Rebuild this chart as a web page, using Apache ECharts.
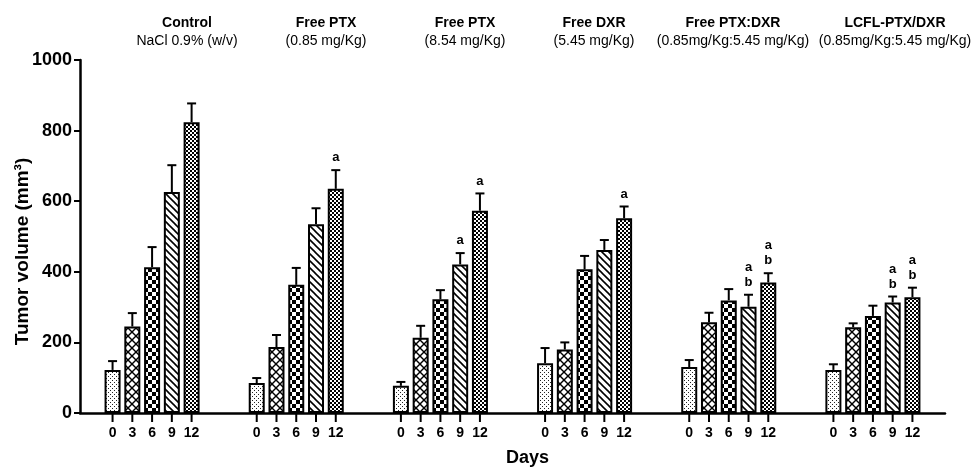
<!DOCTYPE html>
<html>
<head>
<meta charset="utf-8">
<script src="https://cdn.jsdelivr.net/npm/echarts@6/dist/echarts.min.js"></script>
<style>html,body{margin:0;padding:0;background:#fff}#c{width:974px;height:468px}</style>
</head>
<body>
<div id="c"></div>
<script>
// ---------- data ----------
var groupTitles = ['Control', 'Free PTX', 'Free PTX', 'Free DXR', 'Free PTX:DXR', 'LCFL-PTX/DXR'];
var groupSubtitles = ['NaCl 0.9% (w/v)', '(0.85 mg/Kg)', '(8.54 mg/Kg)', '(5.45 mg/Kg)', '(0.85mg/Kg:5.45 mg/Kg)', '(0.85mg/Kg:5.45 mg/Kg)'];
var days = ['0', '3', '6', '9', '12'];
var yTicks = [0, 200, 400, 600, 800, 1000];

var meanDay0  = [122, 85, 77, 141, 130, 122];
var meanDay3  = [245, 187, 213, 180, 257, 243];
var meanDay6  = [413, 363, 322, 407, 319, 275];
var meanDay9  = [626, 535, 421, 462, 301, 313];
var meanDay12 = [824, 635, 573, 552, 370, 328];

var semDay0  = [25, 14, 11, 43, 20, 16];
var semDay3  = [38, 34, 34, 20, 27, 11];
var semDay6  = [57, 48, 26, 38, 32, 29];
var semDay9  = [76, 45, 32, 28, 34, 17];
var semDay12 = [53, 53, 49, 33, 26, 27];

var sigDay0  = ['', '', '', '', '', ''];
var sigDay3  = ['', '', '', '', '', ''];
var sigDay6  = ['', '', '', '', '', ''];
var sigDay9  = ['', '', 'a', '', 'a\nb', 'a\nb'];
var sigDay12 = ['', 'a', 'a', 'a', 'a\nb', 'a\nb'];

// ---------- styling ----------
var FONT = 'Liberation Sans, Arial, sans-serif';
var BAR_W = 16, BAR_GAP = '23.5%';
var titleCenters = [187, 326, 465, 594, 733, 895];

var means = [meanDay0, meanDay3, meanDay6, meanDay9, meanDay12];
var sems = [semDay0, semDay3, semDay6, semDay9, semDay12];
var sigs = [sigDay0, sigDay3, sigDay6, sigDay9, sigDay12];

function makePattern(size, draw) {
  var c = document.createElement('canvas');
  c.width = size; c.height = size;
  var ctx = c.getContext('2d');
  ctx.fillStyle = '#fff'; ctx.fillRect(0, 0, size, size);
  ctx.fillStyle = '#000'; ctx.strokeStyle = '#000';
  draw(ctx, size);
  return { image: c, repeat: 'repeat' };
}
var patterns = [
  makePattern(4, function (ctx) { ctx.fillStyle = '#222'; ctx.fillRect(0, 0, 1, 1); ctx.fillRect(2, 2, 1, 1); }),
  makePattern(8, function (ctx, s) {
    ctx.lineWidth = 1.4;
    ctx.beginPath(); ctx.moveTo(-1, -1); ctx.lineTo(s + 1, s + 1); ctx.stroke();
    ctx.beginPath(); ctx.moveTo(s + 1, -1); ctx.lineTo(-1, s + 1); ctx.stroke();
  }),
  makePattern(8, function (ctx) { ctx.fillRect(0, 0, 4, 4); ctx.fillRect(4, 4, 4, 4); }),
  makePattern(7, function (ctx, s) {
    ctx.lineWidth = 1.6;
    ctx.beginPath(); ctx.moveTo(-1, -1); ctx.lineTo(s + 1, s + 1); ctx.stroke();
    ctx.beginPath(); ctx.moveTo(-s - 1, -1); ctx.lineTo(1, s + 1); ctx.stroke();
    ctx.beginPath(); ctx.moveTo(s - 1, -1); ctx.lineTo(2 * s + 1, s + 1); ctx.stroke();
  }),
  makePattern(4, function (ctx) { ctx.fillRect(0, 0, 2, 2); ctx.fillRect(2, 2, 2, 2); })
];

var series = [];
days.forEach(function (day, d) {
  series.push({
    type: 'bar',
    name: day,
    data: means[d],
    barWidth: BAR_W,
    barGap: BAR_GAP,
    itemStyle: { color: patterns[d], borderColor: '#000', borderWidth: 2 },
    silent: true
  });
});
days.forEach(function (day, d) {
  series.push({
    type: 'custom',
    name: 'err' + day,
    clip: false,
    z: 5,
    silent: true,
    encode: { x: 0, y: 1 },
    data: means[d].map(function (m, g) { return [g, m, sems[d][g]]; }),
    renderItem: function (params, api) {
      var g = api.value(0), mean = api.value(1), sem = api.value(2);
      var off;
      if (api.barLayout) {
        var lay = api.barLayout({ barWidth: BAR_W, barGap: BAR_GAP, count: days.length });
        off = lay[d].offsetCenter;
      } else {
        var gap = BAR_W * parseFloat(BAR_GAP) / 100;
        off = (d - (days.length - 1) / 2) * (BAR_W + gap);
      }
      var base = api.coord([g, 0]);
      var top = api.coord([g, mean]);
      var et = api.coord([g, mean + sem]);
      var x = base[0] + off;
      var lineStyle = { stroke: '#000', lineWidth: 2 };
      var children = [
        { type: 'line', shape: { x1: x, y1: top[1], x2: x, y2: et[1] }, style: lineStyle },
        { type: 'line', shape: { x1: x - 4.5, y1: et[1], x2: x + 4.5, y2: et[1] }, style: lineStyle },
        { type: 'line', shape: { x1: x, y1: base[1], x2: x, y2: base[1] + 9 }, style: lineStyle },
        { type: 'text', style: { x: x, y: base[1] + 20, text: day, align: 'center', verticalAlign: 'middle',
            font: 'bold 14px ' + FONT, fill: '#000' } }
      ];
      var sig = sigs[d][params.dataIndex];
      if (sig) {
        children.push({ type: 'text', style: { x: x, y: et[1] - 5, text: sig, align: 'center', verticalAlign: 'bottom',
          font: 'bold 13px ' + FONT, lineHeight: 15, fill: '#000' } });
      }
      return { type: 'group', children: children };
    }
  });
});

var titles = groupTitles.map(function (t, i) {
  return {
    text: t, subtext: groupSubtitles[i], left: titleCenters[i], top: 16, textAlign: 'center', itemGap: 4,
    padding: 0,
    textStyle: { fontFamily: FONT, fontWeight: 'bold', fontSize: 14, color: '#000' },
    subtextStyle: { fontFamily: FONT, fontSize: 14, color: '#000' }
  };
});

var chart = echarts.init(document.getElementById('c'), null, { renderer: 'canvas' });
chart.setOption({
  animation: false,
  backgroundColor: '#fff',
  title: titles,
  grid: { left: 80, right: 29, top: 60, bottom: 55, containLabel: false, outerBoundsMode: 'none' },
  xAxis: {
    type: 'category',
    data: groupTitles.map(function (t, i) { return t + i; }),
    axisLine: { lineStyle: { color: '#000', width: 2.5 } },
    axisTick: { show: false },
    axisLabel: { show: false },
    name: 'Days', nameLocation: 'middle', nameGap: 36, nameMoveOverlap: false,
    nameTextStyle: { fontFamily: FONT, fontWeight: 'bold', fontSize: 18, color: '#000', padding: [0, 0, 0, 30] }
  },
  yAxis: {
    type: 'value', min: yTicks[0], max: yTicks[yTicks.length - 1], interval: yTicks[1] - yTicks[0],
    splitLine: { show: false },
    axisLine: { show: true, lineStyle: { color: '#000', width: 2.5 } },
    axisTick: { show: true, length: 6, lineStyle: { color: '#000', width: 2 } },
    axisLabel: { fontFamily: FONT, fontWeight: 'bold', fontSize: 18, color: '#000', margin: 8,
      formatter: function (v) { return String(v); } },
    name: 'Tumor volume (mm³)', nameLocation: 'middle', nameGap: 48, nameMoveOverlap: false,
    nameTextStyle: { fontFamily: FONT, fontWeight: 'bold', fontSize: 19, color: '#000', padding: [0, 30, 0, 0] }
  },
  series: series
});
</script>
</body>
</html>
